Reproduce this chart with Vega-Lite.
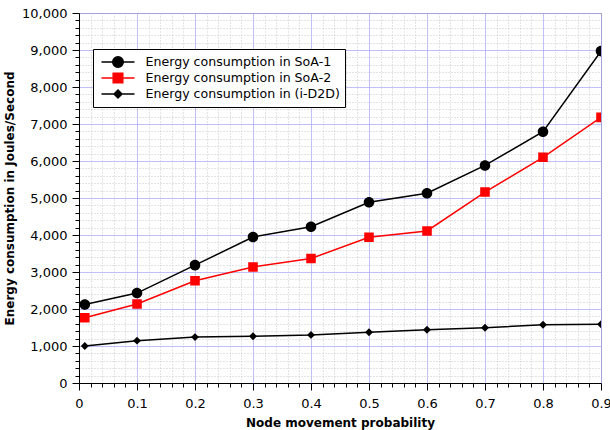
{
  "$schema": "https://vega.github.io/schema/vega-lite/v6.json",
  "width": 522,
  "height": 370,
  "autosize": {"type": "none"},
  "padding": {"left": 79, "top": 13, "right": 9, "bottom": 47},
  "background": "white",
  "config": {"view": {"stroke": "#888888", "strokeWidth": 1}, "font": "DejaVu Sans"},
  "data": {"values": [
    {"x": 0.01, "energy": 2120, "series": "Energy consumption in SoA-1"},
    {"x": 0.1, "energy": 2430, "series": "Energy consumption in SoA-1"},
    {"x": 0.2, "energy": 3185, "series": "Energy consumption in SoA-1"},
    {"x": 0.3, "energy": 3945, "series": "Energy consumption in SoA-1"},
    {"x": 0.4, "energy": 4225, "series": "Energy consumption in SoA-1"},
    {"x": 0.5, "energy": 4885, "series": "Energy consumption in SoA-1"},
    {"x": 0.6, "energy": 5130, "series": "Energy consumption in SoA-1"},
    {"x": 0.7, "energy": 5880, "series": "Energy consumption in SoA-1"},
    {"x": 0.8, "energy": 6790, "series": "Energy consumption in SoA-1"},
    {"x": 0.9, "energy": 8970, "series": "Energy consumption in SoA-1"},
    {"x": 0.01, "energy": 1765, "series": "Energy consumption in SoA-2"},
    {"x": 0.1, "energy": 2135, "series": "Energy consumption in SoA-2"},
    {"x": 0.2, "energy": 2765, "series": "Energy consumption in SoA-2"},
    {"x": 0.3, "energy": 3135, "series": "Energy consumption in SoA-2"},
    {"x": 0.4, "energy": 3365, "series": "Energy consumption in SoA-2"},
    {"x": 0.5, "energy": 3940, "series": "Energy consumption in SoA-2"},
    {"x": 0.6, "energy": 4110, "series": "Energy consumption in SoA-2"},
    {"x": 0.7, "energy": 5160, "series": "Energy consumption in SoA-2"},
    {"x": 0.8, "energy": 6100, "series": "Energy consumption in SoA-2"},
    {"x": 0.9, "energy": 7180, "series": "Energy consumption in SoA-2"},
    {"x": 0.01, "energy": 1000, "series": "Energy consumption in (i-D2D)"},
    {"x": 0.1, "energy": 1145, "series": "Energy consumption in (i-D2D)"},
    {"x": 0.2, "energy": 1240, "series": "Energy consumption in (i-D2D)"},
    {"x": 0.3, "energy": 1265, "series": "Energy consumption in (i-D2D)"},
    {"x": 0.4, "energy": 1300, "series": "Energy consumption in (i-D2D)"},
    {"x": 0.5, "energy": 1370, "series": "Energy consumption in (i-D2D)"},
    {"x": 0.6, "energy": 1440, "series": "Energy consumption in (i-D2D)"},
    {"x": 0.7, "energy": 1495, "series": "Energy consumption in (i-D2D)"},
    {"x": 0.8, "energy": 1575, "series": "Energy consumption in (i-D2D)"},
    {"x": 0.9, "energy": 1590, "series": "Energy consumption in (i-D2D)"}
  ]},
  "encoding": {
    "x": {
      "field": "x", "type": "quantitative",
      "scale": {"domain": [0, 0.9], "nice": false, "zero": false},
      "axis": {
        "title": "Node movement probability",
        "titleFont": "DejaVu Sans", "titleFontSize": 12, "titleFontWeight": "bold", "titleColor": "black", "titlePadding": 7,
        "values": [0,0.02,0.04,0.06,0.08,0.1,0.12,0.14,0.16,0.18,0.2,0.22,0.24,0.26,0.28,0.3,0.32,0.34,0.36,0.38,0.4,0.42,0.44,0.46,0.48,0.5,0.52,0.54,0.56,0.58,0.6,0.62,0.64,0.66,0.68,0.7,0.72,0.74,0.76,0.78,0.8,0.82,0.84,0.86,0.88,0.9],
        "labelExpr": "abs(datum.value*10-round(datum.value*10))<0.000001 ? format(datum.value, '~g') : ''",
        "labelFont": "DejaVu Sans", "labelFontSize": 13, "labelColor": "black",
        "labelOverlap": false, "labelFlush": false, "labelBound": false, "labelPadding": 7,
        "tickSize": {"expr": "abs(datum.value*10-round(datum.value*10))<0.000001 ? 7 : 4"},
        "tickColor": "black", "tickWidth": 1,
        "domainColor": "black", "domainWidth": 1,
        "grid": true, "gridWidth": 1, "gridOpacity": 1,
        "gridColor": {"expr": "abs(datum.value*10-round(datum.value*10))<0.000001 ? '#aaaaf5' : '#c8c8c8'"},
        "gridDash": {"expr": "abs(datum.value*10-round(datum.value*10))<0.000001 ? [1,0] : [1,2]"}
      }
    },
    "y": {
      "field": "energy", "type": "quantitative",
      "scale": {"domain": [0, 10000], "nice": false},
      "axis": {
        "title": "Energy consumption in Joules/Second",
        "titleFont": "DejaVu Sans", "titleFontSize": 12, "titleFontWeight": "bold", "titleColor": "black", "titlePadding": 5,
        "values": [0,200,400,600,800,1000,1200,1400,1600,1800,2000,2200,2400,2600,2800,3000,3200,3400,3600,3800,4000,4200,4400,4600,4800,5000,5200,5400,5600,5800,6000,6200,6400,6600,6800,7000,7200,7400,7600,7800,8000,8200,8400,8600,8800,9000,9200,9400,9600,9800,10000],
        "labelExpr": "datum.value % 1000 === 0 ? format(datum.value, ',') : ''",
        "labelFont": "DejaVu Sans", "labelFontSize": 13, "labelColor": "black",
        "labelOverlap": false, "labelFlush": false, "labelBound": false, "labelPadding": 5,
        "tickSize": {"expr": "datum.value % 1000 === 0 ? 7 : 4"},
        "tickColor": "black", "tickWidth": 1,
        "domainColor": "black", "domainWidth": 1,
        "grid": true, "gridWidth": 1, "gridOpacity": 1,
        "gridColor": {"expr": "datum.value % 1000 === 0 ? '#aaaaf5' : '#c8c8c8'"},
        "gridDash": {"expr": "datum.value % 1000 === 0 ? [1,0] : [1,2]"}
      }
    },
    "color": {
      "field": "series", "type": "nominal",
      "scale": {"domain": ["Energy consumption in SoA-1", "Energy consumption in SoA-2", "Energy consumption in (i-D2D)"], "range": ["black", "#ff0000", "black"]},
      "legend": {
        "title": null, "orient": "none", "legendX": 14, "legendY": 36,
        "padding": 5, "fillColor": "white", "strokeColor": "black", "cornerRadius": 0,
        "labelFont": "DejaVu Sans", "labelFontSize": 12.6, "labelColor": "black", "labelOffset": 10, "labelLimit": 400,
        "symbolSize": 1089, "symbolStrokeWidth": 1.5, "symbolOffset": 2.5,
        "clipHeight": 16, "rowPadding": 0
      }
    }
  },
  "layer": [
    {
      "mark": {"type": "line", "strokeWidth": 1.5, "clip": true}
    },
    {
      "mark": {"type": "point", "filled": true, "opacity": 1, "size": 1089, "clip": true},
      "encoding": {
        "shape": {
          "field": "series", "type": "nominal",
          "scale": {"domain": ["Energy consumption in SoA-1", "Energy consumption in SoA-2", "Energy consumption in (i-D2D)"], "range": ["M-1,0H1M0.32,0A0.32,0.32,0,1,1,-0.32,0A0.32,0.32,0,1,1,0.32,0Z", "M-1,0H1M-0.29,-0.29H0.29V0.29H-0.29Z", "M-1,0H1M0,-0.24L0.24,0L0,0.24L-0.24,0Z"]},
          "legend": {
            "title": null, "orient": "none", "legendX": 14, "legendY": 36,
            "padding": 5, "fillColor": "white", "strokeColor": "black", "cornerRadius": 0,
            "labelFont": "DejaVu Sans", "labelFontSize": 12.6, "labelColor": "black", "labelOffset": 10, "labelLimit": 400,
            "symbolSize": 1089, "symbolStrokeWidth": 1.5, "symbolOffset": 2.5,
            "clipHeight": 16, "rowPadding": 0
          }
        }
      }
    }
  ]
}
